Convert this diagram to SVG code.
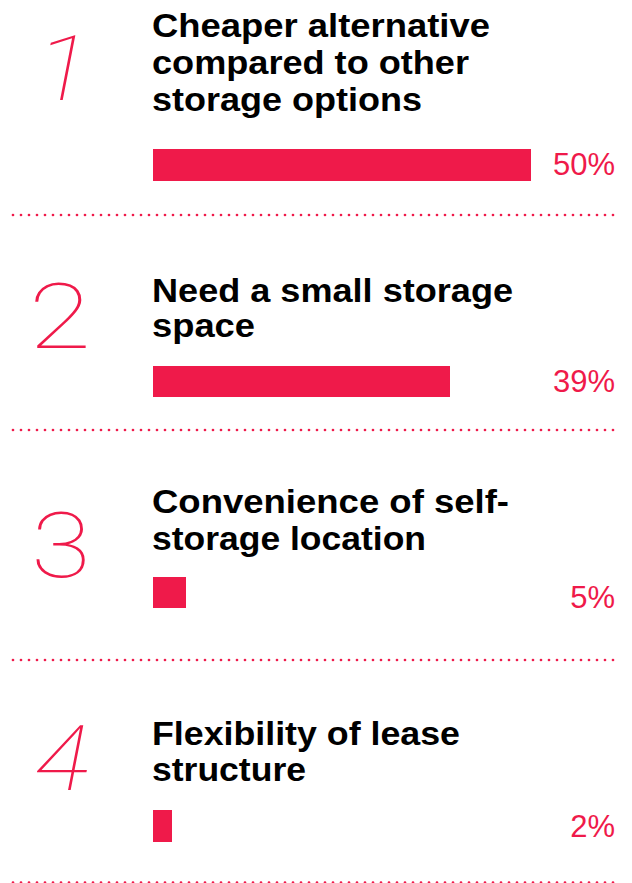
<svg xmlns="http://www.w3.org/2000/svg" width="632" height="883" viewBox="0 0 632 883">
<style>
.title{font-family:"Liberation Sans",Arial,Helvetica,sans-serif;font-weight:bold;font-size:33.5px;fill:#000}
.pct{font-family:"Liberation Sans",Arial,Helvetica,sans-serif;font-weight:normal;font-size:31px;fill:#EF1A4A;text-anchor:end}
.num{font-family:Roboto,"Liberation Sans",sans-serif;font-weight:100;font-size:91px;fill:#EF1A4A;text-anchor:middle}
.bar{fill:#EF1A4A}
.dots{stroke:#EF1A4A;stroke-width:2.7;stroke-linecap:round;stroke-dasharray:0 8;fill:none}
</style>
<rect width="632" height="883" fill="#fff"/>
<g id="item1">
<text class="num" transform="translate(58,100) skewX(-11) scale(1.1,1)">1</text>
<text class="title" x="152" y="37" textLength="338" lengthAdjust="spacingAndGlyphs">Cheaper alternative</text>
<text class="title" x="152" y="74" textLength="317" lengthAdjust="spacingAndGlyphs">compared to other</text>
<text class="title" x="152" y="111" textLength="270" lengthAdjust="spacingAndGlyphs">storage options</text>
<rect class="bar" x="153" y="149" width="378" height="32"/>
<text class="pct" x="615" y="175">50%</text>
</g>
<g id="item2">
<text class="num" transform="translate(60,348) scale(1.25,1)">2</text>
<text class="title" x="152" y="302" textLength="361" lengthAdjust="spacingAndGlyphs">Need a small storage</text>
<text class="title" x="152" y="337" textLength="103" lengthAdjust="spacingAndGlyphs">space</text>
<rect class="bar" x="153" y="366" width="297" height="31"/>
<text class="pct" x="615" y="392">39%</text>
</g>
<g id="item3">
<text class="num" transform="translate(61,577) scale(1.2,1)">3</text>
<text class="title" x="152" y="513" textLength="357" lengthAdjust="spacingAndGlyphs">Convenience of self-</text>
<text class="title" x="152" y="550" textLength="274" lengthAdjust="spacingAndGlyphs">storage location</text>
<rect class="bar" x="153" y="577" width="33" height="31"/>
<text class="pct" x="615" y="608">5%</text>
</g>
<g id="item4">
<text class="num" transform="translate(57,790) skewX(-11) scale(1.1,1)">4</text>
<text class="title" x="152" y="745" textLength="308" lengthAdjust="spacingAndGlyphs">Flexibility of lease</text>
<text class="title" x="152" y="781" textLength="154" lengthAdjust="spacingAndGlyphs">structure</text>
<rect class="bar" x="153" y="810" width="19" height="32"/>
<text class="pct" x="615" y="837">2%</text>
</g>
<g id="separators">
<line class="dots" x1="13" y1="215" x2="617" y2="215"/>
<line class="dots" x1="13" y1="430" x2="617" y2="430"/>
<line class="dots" x1="13" y1="660" x2="617" y2="660"/>
<line class="dots" x1="13" y1="882.5" x2="617" y2="882.5"/>
</g>
</svg>
